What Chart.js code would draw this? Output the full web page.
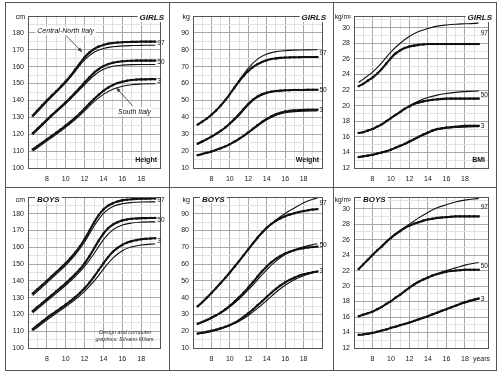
<!DOCTYPE html>
<html>
<head>
<meta charset="utf-8">
<script src="https://cdn.jsdelivr.net/npm/chart.js@4.4.1/dist/chart.umd.min.js"></script>
<style>
  body { margin: 0; background: #fff; }
  #wrap { position: relative; width: 500px; height: 376px; overflow: hidden; }
  canvas { position: absolute; }
  .ln { position: absolute; background: #555; }
</style>
</head>
<body>
<div id="wrap">
  <canvas id="c1" width="164" height="185" style="left:5px;top:2px"></canvas>
  <canvas id="c2" width="164" height="185" style="left:169px;top:2px"></canvas>
  <canvas id="c3" width="163" height="185" style="left:333px;top:2px"></canvas>
  <canvas id="c4" width="164" height="183" style="left:5px;top:187px"></canvas>
  <canvas id="c5" width="164" height="183" style="left:169px;top:187px"></canvas>
  <canvas id="c6" width="163" height="183" style="left:333px;top:187px"></canvas>
  <div class="ln" style="left:5px;top:2px;width:492px;height:1px"></div>
  <div class="ln" style="left:5px;top:370px;width:492px;height:1px"></div>
  <div class="ln" style="left:5px;top:187px;width:492px;height:1px"></div>
  <div class="ln" style="left:5px;top:2px;width:1px;height:369px"></div>
  <div class="ln" style="left:169px;top:2px;width:1px;height:369px"></div>
  <div class="ln" style="left:333px;top:2px;width:1px;height:369px"></div>
  <div class="ln" style="left:496px;top:2px;width:1px;height:369px"></div>
</div>
<script>
// ages (years)
var agesFine = [6.5,7,7.5,8,8.5,9,9.5,10,10.5,11,11.5,12,12.5,13,13.5,14,14.5,15,15.5,16,16.5,17,17.5,18,18.5,19,19.5];
var agesCoarse = [6.5,7,8,9,10,11,12,13,14,15,16,17,18,19,19.5];

var yearTicks = [8,10,12,14,16,18];
var heightTicks = [100,110,120,130,140,150,160,170,180];
var weightTicks = [10,20,30,40,50,60,70,80,90];
var bmiTicks = [12,14,16,18,20,22,24,26,28,30];
var percentiles = ['97','50','3'];

// GIRLS height (cm) - Central-North (dotted) / South (thin)
var girlsHeightCN97 = [131,134,137,140,142.8,145.5,148.3,151.2,154.5,158.2,162,165.5,168.3,170.4,171.9,172.9,173.6,174,174.3,174.5,174.6,174.7,174.7,174.8,174.8,174.8,174.8];
var girlsHeightS97 = [130.2,133.2,139.2,144.8,150.5,157.2,164,168.5,170.8,171.8,172.3,172.5,172.6,172.7,172.7];
var girlsHeightCN50 = [120.5,123.2,125.9,128.6,131.2,133.8,136.3,138.9,141.6,144.5,147.5,150.6,153.6,156.4,158.6,160.3,161.5,162.3,162.8,163.2,163.4,163.5,163.6,163.6,163.6,163.6,163.6];
var girlsHeightS50 = [119.8,122.4,127.9,133.1,138.2,143.6,149.3,154.8,158.4,160.2,160.9,161.2,161.3,161.3,161.3];
var girlsHeightCN3 = [111,112.9,114.9,116.9,118.9,120.9,123,125.1,127.3,129.7,132.3,135.1,138,140.8,143.4,145.7,147.6,149.1,150.3,151.1,151.7,152.1,152.3,152.5,152.5,152.6,152.6];
var girlsHeightS3 = [110,111.9,115.9,119.9,124.1,128.6,133.8,139.3,143.6,146.6,148.4,149.3,149.7,149.9,149.9];

// GIRLS weight (kg)
var girlsWeightCN97 = [35.7,37.4,39.3,41.5,44,46.9,50.2,53.8,57.6,61.3,64.6,67.4,69.7,71.5,72.8,73.8,74.5,74.9,75.2,75.4,75.5,75.6,75.6,75.7,75.7,75.7,75.7];
var girlsWeightS97 = [35.5,37.3,41.4,46.8,53.8,61.8,69.2,74.5,77.5,78.9,79.5,79.8,79.9,80,80];
var girlsWeightCN50 = [24.4,25.7,27.1,28.6,30.2,32,34,36.4,39,41.8,44.9,47.9,50.4,52.3,53.7,54.6,55.2,55.6,55.8,56,56.1,56.2,56.2,56.2,56.3,56.3,56.3];
var girlsWeightS50 = [24.2,25.5,28.4,31.8,36,41.2,47.2,51.8,54.3,55.4,55.9,56.1,56.2,56.3,56.3];
var girlsWeightCN3 = [17.6,18.3,19,19.8,20.7,21.7,22.8,24.1,25.6,27.3,29.1,31.1,33.2,35.3,37.3,39.1,40.6,41.8,42.7,43.4,43.8,44.1,44.3,44.4,44.5,44.5,44.5];
var girlsWeightS3 = [17.4,18.1,19.6,21.5,23.9,27,30.8,34.8,38.5,41.2,42.7,43.4,43.7,43.8,43.8];

// GIRLS BMI (kg/m2)
var girlsBmiCN97 = [22.5,22.8,23.2,23.6,24.1,24.7,25.4,26.1,26.7,27.1,27.4,27.6,27.7,27.8,27.85,27.9,27.9,27.9,27.9,27.9,27.9,27.9,27.9,27.9,27.9,27.9,27.9];
var girlsBmiS97 = [23,23.4,24.3,25.5,26.9,28,28.9,29.5,29.9,30.2,30.35,30.45,30.5,30.55,30.6];
var girlsBmiCN50 = [16.5,16.6,16.8,17,17.3,17.6,18,18.4,18.8,19.2,19.6,19.9,20.2,20.4,20.55,20.65,20.75,20.8,20.85,20.9,20.9,20.9,20.9,20.9,20.9,20.9,20.9];
var girlsBmiS50 = [16.5,16.6,17,17.6,18.4,19.2,20,20.6,21.05,21.35,21.55,21.7,21.8,21.85,21.9];
var girlsBmiCN3 = [13.4,13.5,13.6,13.7,13.85,14,14.15,14.35,14.6,14.85,15.1,15.4,15.7,16,16.3,16.55,16.8,17,17.1,17.2,17.25,17.3,17.35,17.4,17.4,17.4,17.4];
var girlsBmiS3 = [13.35,13.45,13.65,13.95,14.3,14.8,15.35,15.95,16.5,16.9,17.1,17.2,17.25,17.3,17.3];

// BOYS height (cm)
var boysHeightCN97 = [132.5,135,137.5,140,142.6,145.2,147.8,150.5,153.5,156.8,160.5,164.8,169.8,174.8,179.2,182.5,184.8,186.3,187.3,188,188.4,188.7,188.9,189,189,189.1,189.1];
var boysHeightS97 = [131.3,133.8,138.8,144,149.3,155.5,163.2,172.6,180.2,184.3,186,186.7,187,187.1,187.1];
var boysHeightCN50 = [122,124.4,126.7,129,131.4,133.8,136.2,138.6,141.2,144,147,150.5,154.6,159.3,164,168.2,171.4,173.6,175,176,176.6,177,177.2,177.4,177.4,177.5,177.5];
var boysHeightS50 = [121,123.3,127.9,132.6,137.4,142.6,148.6,156.2,164.6,170.4,173.3,174.5,175,175.2,175.2];
var boysHeightCN3 = [111.2,113.5,115.7,117.9,119.9,121.9,123.9,125.9,128,130.3,132.8,135.6,138.8,142.5,146.5,150.5,154.2,157.3,159.7,161.5,162.8,163.7,164.3,164.8,165.1,165.3,165.4];
var boysHeightS3 = [110.2,112.4,116.7,120.7,124.7,128.9,133.8,139.8,147,153.6,158,160.3,161.4,161.9,162];

// BOYS weight (kg)
var boysWeightCN97 = [34.8,37.3,40,42.8,45.7,48.7,51.8,55,58.4,61.8,65.3,68.8,72.3,75.7,78.8,81.6,83.9,85.8,87.3,88.5,89.5,90.3,91,91.6,92.1,92.5,92.8];
var boysWeightS97 = [34.8,37.2,42.7,48.6,55,61.8,68.8,75.6,81.5,86.3,90.2,93.4,96.6,98.7,99.4];
var boysWeightCN50 = [24.4,25.5,26.7,28,29.5,31.1,33,35.2,37.6,40.2,43,46,49.2,52.5,55.7,58.6,61.1,63.2,64.9,66.3,67.4,68.3,69,69.5,69.9,70.2,70.4];
var boysWeightS50 = [24.2,25.3,27.8,30.8,34.6,39.2,44.6,50.6,56.6,61.8,65.7,68.4,70.3,71.6,72.1];
var boysWeightCN3 = [18.6,19.1,19.6,20.2,20.9,21.7,22.6,23.7,25,26.6,28.5,30.6,32.9,35.4,37.9,40.4,42.9,45.2,47.3,49.1,50.6,51.9,53,53.9,54.6,55.2,55.6];
var boysWeightS3 = [18.4,18.8,19.9,21.4,23.4,26,29.4,33.6,38.3,43.2,47.4,50.7,53.1,54.8,55.5];

// BOYS BMI (kg/m2)
var boysBmiCN97 = [22.2,22.8,23.4,24,24.6,25.1,25.7,26.2,26.7,27.1,27.5,27.8,28.05,28.25,28.45,28.6,28.7,28.8,28.85,28.9,28.95,29,29,29,29,29,29];
var boysBmiS97 = [22.2,22.8,24,25.2,26.3,27.2,28,28.8,29.5,30.1,30.5,30.85,31.1,31.25,31.3];
var boysBmiCN50 = [16.1,16.3,16.5,16.7,17,17.3,17.7,18.05,18.5,18.9,19.35,19.8,20.2,20.55,20.85,21.1,21.35,21.55,21.7,21.85,21.95,22,22.05,22.1,22.1,22.1,22.1];
var boysBmiS50 = [16.1,16.3,16.7,17.3,18.05,18.9,19.8,20.55,21.15,21.6,22,22.35,22.7,22.95,23.05];
var boysBmiCN3 = [13.7,13.75,13.85,13.95,14.1,14.25,14.4,14.6,14.75,14.95,15.1,15.3,15.5,15.7,15.9,16.1,16.35,16.55,16.8,17,17.25,17.45,17.7,17.9,18.1,18.25,18.4];
var boysBmiS3 = [13.7,13.75,13.95,14.25,14.6,14.95,15.3,15.7,16.1,16.55,17,17.45,17.85,18.15,18.3];

var FONT = '"Liberation Sans", Arial, sans-serif';
var INK = '#111';

// major ticks plus a light line half way between
function withMinor(major) {
  var step = major[1] - major[0];
  var out = [major[0] - step / 2];
  major.forEach(function (v) { out.push(v, v + step / 2); });
  return out;
}

function arrow(ctx, x1, y1, x2, y2) {
  var ang = Math.atan2(y2 - y1, x2 - x1);
  ctx.beginPath();
  ctx.moveTo(x1, y1);
  ctx.lineTo(x2 - 3 * Math.cos(ang), y2 - 3 * Math.sin(ang));
  ctx.stroke();
  ctx.beginPath();
  ctx.moveTo(x2, y2);
  ctx.lineTo(x2 - 5 * Math.cos(ang - 0.35), y2 - 5 * Math.sin(ang - 0.35));
  ctx.lineTo(x2 - 5 * Math.cos(ang + 0.35), y2 - 5 * Math.sin(ang + 0.35));
  ctx.closePath();
  ctx.fill();
}

function boxText(ctx, txt, x, y) {
  var w = ctx.measureText(txt).width;
  ctx.fillStyle = '#fff';
  ctx.fillRect(x - w / 2 - 1.5, y - 4.5, w + 3, 9);
  ctx.fillStyle = INK;
  ctx.fillText(txt, x, y);
}

var panels = {};

var panelText = {
  id: 'panelText',
  afterDraw: function (chart) {
    var o = panels[chart.canvas.id];
    var ctx = chart.ctx, a = chart.chartArea;
    var xs = chart.scales.x, ys = chart.scales.y;
    ctx.save();
    ctx.strokeStyle = '#555';
    ctx.lineWidth = 1;
    ctx.strokeRect(Math.round(a.left) + 0.5, Math.round(a.top) + 0.5,
      Math.round(a.right - a.left), Math.round(a.bottom - a.top));

    ctx.fillStyle = INK;
    ctx.textBaseline = 'middle';
    ctx.font = (o.unit.length > 3 ? '6.5px ' : '7px ') + FONT;
    ctx.textAlign = 'right';
    ctx.fillText(o.unit, a.left - 3, a.top + o.sexDy);

    ctx.font = 'italic bold 8px ' + FONT;
    var w = ctx.measureText(o.sex).width;
    var sx = o.sexRight ? a.right + 4 - w : a.left + 9;
    ctx.fillStyle = '#fff';
    ctx.fillRect(sx - 2, a.top - 4, w + 4, 10);
    ctx.fillStyle = INK;
    ctx.textAlign = 'left';
    ctx.fillText(o.sex, sx, a.top + o.sexDy);

    if (o.name) {
      ctx.font = 'bold 7px ' + FONT;
      ctx.textAlign = 'right';
      ctx.fillText(o.name, a.right - 3, a.bottom - 8);
    }

    // 97 / 50 / 3 next to the curve ends
    ctx.font = '6.5px ' + FONT;
    ctx.textAlign = 'left';
    var ds = chart.data.datasets;
    for (var i = 0; i < 3; i++) {
      var cn = ds[2 * i].data, s = ds[2 * i + 1].data;
      var v = (cn[cn.length - 1].y + s[s.length - 1].y) / 2;
      ctx.fillText(percentiles[i], xs.getPixelForValue(cn[cn.length - 1].x) + 2, ys.getPixelForValue(v));
    }
    if (o.extra) o.extra(ctx, xs, ys, a);
    ctx.restore();
  }
};

function makePanel(id, o) {
  panels[id] = o;
  var ds = [];
  o.cn.forEach(function (vals, i) {
    ds.push({
      label: 'Central-North ' + percentiles[i],
      data: agesFine.map(function (a, j) { return { x: a, y: vals[j] }; }),
      borderColor: INK, borderWidth: 2.1,
      pointRadius: 1.5, pointStyle: 'rect', pointBackgroundColor: INK, pointBorderWidth: 0,
      cubicInterpolationMode: 'monotone'
    });
    ds.push({
      label: 'South ' + percentiles[i],
      data: agesCoarse.map(function (a, j) { return { x: a, y: o.south[i][j] }; }),
      borderColor: INK, borderWidth: 1.1, pointRadius: 0,
      cubicInterpolationMode: 'monotone'
    });
  });

  var gridColor = function (major) {
    return function (c) {
      return c.tick && major.indexOf(c.tick.value) >= 0 ? '#a8a8a8' : '#e2e2e2';
    };
  };

  new Chart(document.getElementById(id), {
    type: 'line',
    data: { datasets: ds },
    options: {
      responsive: false,
      animation: false,
      events: [],
      layout: { padding: { top: o.padTop, right: o.padRight, bottom: 0, left: 0 } },
      plugins: { legend: { display: false }, tooltip: { enabled: false } },
      scales: {
        x: {
          type: 'linear', min: 6, max: o.xMax,
          afterBuildTicks: function (s) {
            s.ticks = withMinor(yearTicks).filter(function (v) { return v > 6 && v < o.xMax; })
              .map(function (v) { return { value: v }; });
          },
          afterFit: function (s) { s.height = o.xh; },
          border: { display: false },
          grid: { drawTicks: false, color: gridColor(yearTicks), lineWidth: 1 },
          ticks: {
            autoSkip: false, maxRotation: 0, padding: 7, color: '#1a1a1a',
            font: { family: FONT, size: 7 },
            callback: function (v) { return yearTicks.indexOf(v) >= 0 ? String(v) : ''; }
          }
        },
        y: {
          min: o.yMin, max: o.yMax,
          afterBuildTicks: function (s) {
            s.ticks = withMinor(o.yTicks).filter(function (v) { return v > o.yMin && v < o.yMax; })
              .concat([o.yMin]).map(function (v) { return { value: v }; });
          },
          afterFit: function (s) { s.width = o.yw; },
          border: { display: false },
          grid: { drawTicks: false, color: gridColor(o.yTicks), lineWidth: 1 },
          ticks: {
            autoSkip: false, padding: 4, color: '#1a1a1a',
            font: { family: FONT, size: 7 },
            callback: function (v) { return o.yTicks.indexOf(v) >= 0 ? String(v) : ''; }
          }
        }
      }
    },
    plugins: [panelText]
  });
}

makePanel('c1', {
  cn: [girlsHeightCN97, girlsHeightCN50, girlsHeightCN3],
  south: [girlsHeightS97, girlsHeightS50, girlsHeightS3],
  yMin: 100, yMax: 190, yTicks: heightTicks, xMax: 20,
  padTop: 14, padRight: 9, yw: 23, xh: 19,
  unit: 'cm', sex: 'GIRLS', sexRight: true, sexDy: 1.5, name: 'Height',
  extra: function (ctx, xs, ys) {
    ctx.font = 'italic 7px ' + FONT;
    ctx.textAlign = 'center';
    ctx.strokeStyle = '#333';
    ctx.fillStyle = '#333';
    ctx.lineWidth = 0.8;
    arrow(ctx, xs.getPixelForValue(10.0), ys.getPixelForValue(178.6), xs.getPixelForValue(11.75), ys.getPixelForValue(168.6));
    arrow(ctx, xs.getPixelForValue(17.1), ys.getPixelForValue(136.8), xs.getPixelForValue(15.35), ys.getPixelForValue(147.6));
    boxText(ctx, 'Central-North Italy', xs.getPixelForValue(10.0), ys.getPixelForValue(181.2));
    boxText(ctx, 'South Italy', xs.getPixelForValue(17.3), ys.getPixelForValue(133.3));
  }
});

makePanel('c2', {
  cn: [girlsWeightCN97, girlsWeightCN50, girlsWeightCN3],
  south: [girlsWeightS97, girlsWeightS50, girlsWeightS3],
  yMin: 10, yMax: 100, yTicks: weightTicks, xMax: 20,
  padTop: 14, padRight: 11, yw: 24, xh: 19,
  unit: 'kg', sex: 'GIRLS', sexRight: true, sexDy: 1.5, name: 'Weight'
});

makePanel('c3', {
  cn: [girlsBmiCN97, girlsBmiCN50, girlsBmiCN3],
  south: [girlsBmiS97, girlsBmiS50, girlsBmiS3],
  yMin: 12, yMax: 31.5, yTicks: bmiTicks, xMax: 20.5,
  padTop: 14, padRight: 8, yw: 21, xh: 19,
  unit: 'kg/m²', sex: 'GIRLS', sexRight: true, sexDy: 1.5, name: 'BMI'
});

makePanel('c4', {
  cn: [boysHeightCN97, boysHeightCN50, boysHeightCN3],
  south: [boysHeightS97, boysHeightS50, boysHeightS3],
  yMin: 100, yMax: 190, yTicks: heightTicks, xMax: 20,
  padTop: 10, padRight: 9, yw: 23, xh: 22,
  unit: 'cm', sex: 'BOYS', sexRight: false, sexDy: 3, name: '',
  extra: function (ctx, xs, ys) {
    ctx.font = 'italic 5.5px ' + FONT;
    ctx.textAlign = 'center';
    ctx.fillStyle = '#333';
    ctx.fillText('Design and computer', xs.getPixelForValue(16.3), ys.getPixelForValue(109));
    ctx.fillText('graphics: Silvano Milani.', xs.getPixelForValue(16.3), ys.getPixelForValue(104.9));
  }
});

makePanel('c5', {
  cn: [boysWeightCN97, boysWeightCN50, boysWeightCN3],
  south: [boysWeightS97, boysWeightS50, boysWeightS3],
  yMin: 10, yMax: 100, yTicks: weightTicks, xMax: 20,
  padTop: 10, padRight: 11, yw: 24, xh: 22,
  unit: 'kg', sex: 'BOYS', sexRight: false, sexDy: 3, name: ''
});

makePanel('c6', {
  cn: [boysBmiCN97, boysBmiCN50, boysBmiCN3],
  south: [boysBmiS97, boysBmiS50, boysBmiS3],
  yMin: 12, yMax: 31.5, yTicks: bmiTicks, xMax: 20.5,
  padTop: 10, padRight: 8, yw: 21, xh: 22,
  unit: 'kg/m²', sex: 'BOYS', sexRight: false, sexDy: 3, name: '',
  extra: function (ctx, xs, ys, a) {
    ctx.font = '7px ' + FONT;
    ctx.textAlign = 'right';
    ctx.fillStyle = '#222';
    ctx.fillText('years', a.right + 2, a.bottom + 11);
  }
});
</script>
</body>
</html>
